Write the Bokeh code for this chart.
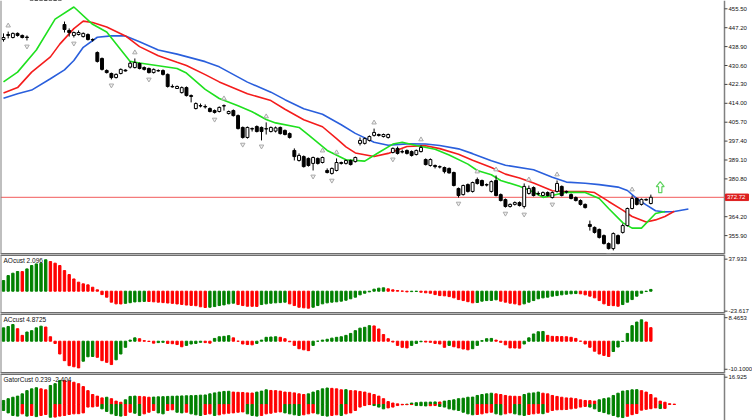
import numpy as np
from bokeh.plotting import figure
from bokeh.layouts import column
from bokeh.models import Range1d, Span, Label
from bokeh.core.properties import value
from bokeh.embed import file_html
from bokeh.resources import INLINE

# ---------------- price data (bar index 0..138) ----------------
opens = [442.0, 444.2, 442.9, 444.7, 443.8, 443.1, 460.2, 461.5, 460.3, 461.0,
         460.2, 460.8, 460.0, 448.6, 446.0, 443.8, 444.2, 443.3, 444.2, 442.0,
         436.3, 433.7, 428.4, 427.1, 425.3, 427.1, 428.6, 429.9, 429.7, 431.5,
         429.7, 429.3, 427.5, 428.4, 428.4, 426.7, 421.4, 420.5, 418.7, 420.9,
         417.4, 411.7, 413.0, 412.6, 411.7, 410.8, 410.4, 412.8, 409.5, 410.8,
         408.6, 403.4, 399.0, 402.9, 403.8, 403.4, 402.7, 401.6, 401.8, 403.4,
         402.1, 400.7, 393.3, 388.9, 390.6, 389.8, 387.6, 389.8, 388.0, 384.5,
         383.2, 384.5, 388.0, 387.6, 388.9, 388.4, 396.4, 396.4, 397.7, 399.9,
         400.3, 399.4, 399.0, 392.4, 394.2, 392.8, 393.3, 392.8, 391.5, 392.8,
         389.3, 386.7, 386.7, 386.0, 385.8, 385.4, 383.6, 376.6, 373.9, 378.3,
         375.3, 380.5, 380.1, 378.3, 375.3, 380.1, 373.9, 371.7, 368.7, 369.6,
         370.4, 368.7, 374.4, 377.0, 374.4, 373.5, 374.8, 372.6, 375.3, 377.5,
         375.3, 373.9, 372.6, 371.3, 369.6, 360.8, 359.5, 358.6, 355.9, 352.4,
         350.2, 355.9, 357.3, 360.3, 367.8, 372.2, 369.6, 371.8, 370.0]
highs = [444.7, 445.5, 445.1, 445.1, 444.2, 443.8, 462.5, 462.0, 461.8, 461.5,
         461.9, 461.4, 461.0, 449.9, 446.9, 445.5, 446.0, 445.1, 444.7, 442.5,
         436.8, 434.1, 428.9, 427.5, 427.1, 429.3, 428.9, 432.4, 433.7, 431.9,
         430.2, 429.7, 429.3, 428.9, 428.9, 427.1, 422.3, 421.8, 421.4, 421.4,
         417.9, 414.4, 413.9, 413.5, 412.2, 411.3, 412.6, 413.5, 410.8, 411.3,
         409.1, 403.8, 403.8, 403.4, 404.3, 403.8, 405.6, 403.8, 403.8, 403.8,
         402.5, 401.2, 394.2, 392.0, 391.1, 390.2, 390.6, 390.2, 390.6, 385.4,
         385.8, 389.8, 388.4, 389.3, 389.3, 390.6, 399.0, 399.0, 399.9, 402.9,
         400.7, 400.7, 400.7, 394.6, 395.0, 393.7, 393.7, 393.3, 393.7, 395.5,
         389.8, 389.8, 387.1, 386.7, 386.2, 385.8, 384.0, 377.0, 378.3, 378.8,
         379.6, 381.4, 380.5, 378.8, 380.1, 382.3, 374.4, 372.2, 370.0, 370.9,
         370.9, 378.8, 377.9, 377.5, 375.3, 375.3, 375.3, 375.3, 380.1, 377.9,
         375.7, 374.4, 373.1, 371.8, 370.0, 362.5, 359.9, 359.0, 356.4, 352.9,
         357.3, 356.4, 361.2, 368.2, 373.5, 372.6, 372.2, 372.2, 373.9]
lows = [441.1, 442.5, 442.5, 443.3, 442.5, 441.6, 459.6, 459.3, 459.1, 459.2,
        459.3, 459.2, 459.7, 445.1, 443.3, 442.9, 443.8, 442.9, 441.6, 441.1,
        431.9, 428.4, 427.1, 424.5, 424.9, 426.7, 428.0, 429.3, 429.3, 428.9,
        428.4, 427.1, 427.1, 427.9, 426.2, 420.9, 420.9, 420.3, 418.3, 417.0,
        414.4, 411.3, 412.2, 411.7, 410.0, 409.5, 410.0, 410.8, 409.1, 408.2,
        402.5, 398.5, 398.5, 401.6, 401.2, 397.7, 400.3, 401.2, 401.2, 400.3,
        399.9, 398.5, 388.9, 388.4, 385.8, 386.2, 384.5, 387.1, 387.6, 383.2,
        382.7, 384.1, 387.1, 387.1, 386.7, 388.0, 395.5, 395.9, 397.2, 399.4,
        399.4, 399.0, 398.5, 392.0, 391.5, 392.0, 391.5, 390.6, 391.1, 392.4,
        386.7, 386.2, 385.4, 385.4, 383.2, 383.2, 377.5, 372.6, 373.5, 374.8,
        374.8, 378.3, 377.5, 377.5, 374.8, 373.1, 370.9, 368.2, 368.2, 369.1,
        368.7, 367.8, 373.9, 373.1, 373.5, 373.1, 373.1, 372.2, 374.8, 373.1,
        374.4, 371.8, 370.9, 369.1, 367.8, 358.1, 356.8, 354.6, 352.0, 349.8,
        349.4, 352.0, 356.8, 359.9, 367.4, 369.1, 369.1, 371.3, 369.6]
closes = [442.9, 443.8, 444.7, 443.8, 442.9, 442.9, 461.4, 460.3, 461.0, 460.2,
          460.8, 460.0, 460.5, 446.4, 445.1, 445.1, 445.1, 444.7, 442.0, 441.8,
          432.4, 428.9, 427.5, 425.3, 426.7, 428.9, 428.2, 431.6, 431.9, 429.3,
          428.9, 427.5, 428.9, 428.2, 426.7, 421.4, 421.2, 421.4, 420.9, 417.4,
          417.0, 413.9, 412.8, 412.4, 410.4, 410.0, 412.2, 413.0, 410.4, 408.6,
          402.9, 399.0, 403.4, 402.7, 401.6, 401.6, 402.9, 403.4, 403.2, 400.7,
          400.3, 399.0, 390.6, 391.1, 386.2, 386.7, 390.2, 387.6, 390.2, 383.6,
          385.4, 388.0, 387.6, 388.9, 387.1, 390.2, 397.7, 398.5, 399.4, 401.2,
          399.9, 400.3, 400.3, 394.2, 392.0, 392.6, 392.0, 391.1, 393.3, 394.6,
          387.1, 389.3, 386.2, 386.2, 384.0, 383.4, 377.9, 373.5, 377.9, 375.3,
          379.2, 378.8, 377.9, 378.1, 379.6, 373.5, 371.3, 368.7, 369.6, 370.4,
          369.1, 377.5, 376.6, 373.5, 374.2, 374.8, 373.5, 374.8, 378.8, 373.5,
          375.0, 372.2, 371.3, 369.6, 368.2, 359.9, 357.3, 355.1, 352.4, 350.2,
          356.8, 352.4, 360.3, 367.8, 372.2, 369.6, 371.8, 371.5, 372.72]

fractal_up = [1, 28, 47, 56, 68, 71, 79, 89, 101, 105, 112, 118, 134]
fractal_down = [5, 15, 23, 31, 45, 51, 55, 66, 70, 83, 97, 107, 111, 117, 129]

# Alligator lines (bar index, price) - already shifted forward
jaw_bars = [0, 3, 6, 10, 13, 15, 17, 20, 23, 26, 29, 33, 37, 43, 46, 52, 57, 60, 64, 68,
            72, 75, 79, 82, 86, 90, 93, 97, 100, 104, 107, 113, 117, 120, 124, 127, 131,
            133, 135, 137, 139, 141, 143, 146]
jaw_vals = [416.2, 418.2, 419.8, 424.8, 428.7, 432.8, 438.6, 443.0, 443.6, 443.6, 441.0,
            437.4, 435.6, 432.3, 430.0, 423.3, 418.9, 415.6, 411.6, 409.2, 404.6, 400.8,
            396.9, 395.6, 396.2, 396.1, 395.5, 394.0, 391.9, 388.8, 386.8, 384.8, 381.5,
            379.4, 378.9, 378.3, 377.2, 375.7, 372.1, 369.4, 366.8, 366.3, 366.5, 367.6]
teeth_bars = [0, 3, 6, 10, 12, 15, 17, 19, 22, 26, 29, 33, 37, 39, 43, 46, 52, 57, 60, 64,
              68, 71, 73, 75, 79, 82, 86, 90, 93, 97, 100, 104, 107, 110, 113, 117, 120,
              124, 126, 129, 132, 134, 137, 139, 141, 143]
teeth_vals = [418.5, 420.9, 427.7, 434.4, 440.0, 446.8, 450.1, 449.5, 447.5, 443.6, 438.9,
              434.9, 432.0, 430.6, 426.6, 423.4, 418.2, 415.2, 411.4, 406.8, 403.7, 398.5,
              394.9, 392.2, 390.6, 392.0, 395.0, 395.4, 394.1, 391.6, 389.0, 385.8, 382.9,
              381.2, 379.0, 375.6, 375.3, 375.3, 374.8, 370.9, 367.1, 364.3, 361.9, 362.8,
              364.3, 366.6]
lips_bars = [0, 3, 7, 11, 15, 19, 22, 27, 29, 33, 37, 39, 43, 46, 50, 53, 56, 58, 63, 65,
             69, 73, 77, 80, 83, 85, 88, 92, 95, 99, 101, 104, 106, 110, 113, 115, 117, 120,
             124, 127, 129, 132, 134, 136, 139, 141]
lips_vals = [423.4, 427.7, 437.4, 451.0, 456.3, 448.7, 445.3, 432.4, 431.7, 430.5, 429.3,
             427.3, 420.1, 416.1, 412.9, 410.3, 406.9, 405.4, 403.4, 400.1, 393.3, 389.2,
             388.6, 392.4, 396.1, 396.9, 395.5, 393.8, 391.3, 387.3, 384.5, 382.6, 380.1,
             377.6, 375.0, 372.7, 373.5, 375.0, 374.8, 372.2, 367.8, 361.6, 359.2, 359.2,
             365.6, 366.5]

current_price = 372.72
current_price_label = "372.72"
signal_bar = 140
signal_price = 374.8

price_ticks = [455.5, 447.2, 438.9, 430.6, 422.3, 414.0, 405.7, 397.4, 389.1, 380.8, 364.2, 355.9]
price_tick_labels = ["455.50", "447.20", "438.90", "430.60", "422.30", "414.00", "405.70",
                     "397.40", "389.10", "380.80", "364.20", "355.90"]

# ---------------- indicator data ----------------
ao = [12.6, 18.5, 21.3, 23.3, 23.2, 26.4, 30.4, 32.3, 33.2, 37.2,
      35.1, 33.2, 30.4, 24.4, 19.7, 14.5, 10.7, 8.7, 7.5, 4.7,
      1.6, -4.0, -7.1, -13.0, -15.0, -15.1, -14.4, -13.6, -12.7, -12.4,
      -12.1, -12.2, -12.6, -13.0, -13.5, -14.0, -14.4, -15.1, -15.7, -16.4,
      -16.8, -17.2, -18.5, -19.3, -19.0, -18.2, -17.0, -16.2, -15.0, -14.2,
      -15.8, -17.0, -17.8, -17.9, -18.0, -15.8, -15.0, -14.2, -13.8, -13.5,
      -13.0, -15.0, -17.0, -19.0, -19.7, -20.1, -19.0, -17.0, -15.0, -13.8,
      -13.0, -12.6, -11.8, -10.7, -9.0, -7.1, -4.3, -2.4, -0.8, 2.4,
      3.6, 4.0, 2.8, 1.6, 0.8, 0.2, -0.8, -0.5, -0.3, -1.2,
      -1.9, -2.4, -4.0, -5.2, -5.5, -6.4, -7.9, -9.9, -11.1, -12.4,
      -13.8, -13.4, -11.8, -11.1, -10.9, -10.2, -11.8, -13.0, -14.2, -15.0,
      -16.2, -15.0, -13.0, -11.1, -9.0, -7.9, -7.1, -5.9, -5.2, -4.3,
      -3.6, -3.1, -2.8, -3.1, -4.3, -5.9, -7.9, -11.1, -15.0, -16.9,
      -17.1, -17.8, -15.8, -13.0, -9.9, -5.9, -2.4, -0.4, 2.096]
ac = [4.8, 5.3, 6.0, 4.5, 2.1, 3.3, 3.8, 4.8, 5.4, 5.1,
      1.6, -0.8, -4.6, -7.0, -8.8, -9.2, -9.6, -7.2, -5.6, -5.5,
      -5.8, -7.0, -7.6, -8.4, -6.7, -4.6, -2.2, 0.4, 1.2, 0.9,
      0.2, -0.1, -0.7, -0.5, -0.4, -0.8, -0.9, -1.2, -2.0, -1.5,
      -1.0, -0.8, -0.4, -0.5, -0.7, 1.0, 1.6, 1.75, 2.0, 1.2,
      0.0, -1.0, -1.2, -1.3, -0.8, 0.4, 1.4, 1.5, 1.6, 1.4,
      0.9, -0.2, -1.5, -2.7, -3.1, -3.4, -1.5, 0.0, 0.4, 0.7,
      1.1, 1.4, 1.6, 2.1, 2.8, 3.8, 4.7, 5.0, 5.6, 5.5,
      4.4, 2.4, 0.9, -0.3, -1.5, -2.2, -2.4, -1.5, -0.8, -0.2,
      -0.3, -0.4, -0.8, -1.0, -2.2, -1.5, -2.0, -2.4, -2.8, -3.1,
      -2.7, -1.5, 0.2, 0.9, 1.0, 0.4, -0.4, -1.3, -2.4, -2.45,
      -2.5, -1.0, 1.2, 2.6, 3.4, 3.5, 2.1, 1.75, 1.7, 1.65,
      1.6, 1.4, 1.0, 0.0, -1.0, -2.2, -3.6, -4.6, -5.1, -5.5,
      -3.7, -2.1, -0.1, 2.8, 5.6, 6.9, 7.7, 6.9, 4.8725]
gator_up = [2.5, 3.6, 4.5, 5.2, 6.6, 8.6, 9.7, 10.4, 9.7, 9.1,
            11.8, 12.9, 14.9, 14.8, 14.5, 13.8, 12.9, 11.1, 8.6, 6.2,
            5.2, 4.1, 4.5, 3.6, 2.1, 1.4, 2.9, 5.0, 5.2, 5.0,
            4.8, 4.5, 4.6, 4.75, 4.85, 5.0, 5.1, 5.2, 5.3, 5.4,
            5.5, 5.6, 5.8, 5.9, 6.6, 7.2, 7.7, 8.1, 8.2, 7.7,
            7.55, 7.45, 7.2, 7.1, 7.7, 8.3, 9.1, 8.7, 8.6, 8.3,
            7.7, 7.55, 7.2, 6.6, 6.2, 6.6, 7.7, 8.6, 9.7, 10.2,
            10.0, 9.7, 9.1, 9.2, 8.6, 8.5, 8.1, 7.7, 7.0, 6.2,
            5.2, 3.6, 1.8, 0.9, 0.4, 0.1, 0.2, 0.9, 1.1, 1.4,
            1.45, 1.5, 1.6, 1.55, 2.1, 2.5, 2.9, 3.6, 3.9, 4.5,
            4.6, 5.6, 6.2, 6.6, 7.0, 6.6, 6.2, 5.6, 5.2, 5.1,
            5.0, 6.2, 7.0, 7.2, 7.7, 7.0, 6.6, 5.6, 5.0, 4.5,
            4.1, 4.0, 3.6, 2.9, 2.5, 2.4, 2.1, 2.9, 3.6, 4.1,
            5.6, 7.0, 8.3, 8.6, 9.1, 9.2, 8.6, 7.7, 6.2, 4.1,
            2.1, 1.4, 0.5, 0.239]
gator_down = [-3.7, -5.2, -6.8, -7.2, -5.8, -7.2, -6.8, -7.5, -6.8, -6.2,
              -7.9, -7.8, -7.2, -6.8, -6.2, -5.8, -5.7, -5.2, -1.6, -1.5,
              -1.1, -2.7, -4.3, -5.8, -6.8, -7.2, -6.8, -4.8, -5.4, -6.8,
              -5.8, -4.8, -3.7, -5.2, -5.8, -3.7, -3.3, -4.8, -5.2, -4.8,
              -5.8, -6.4, -6.8, -6.2, -5.8, -6.8, -6.4, -5.8, -5.4, -5.2,
              -4.8, -4.6, -5.8, -6.8, -7.2, -6.8, -5.8, -5.4, -4.8, -4.6,
              -5.2, -5.8, -6.4, -6.8, -6.4, -5.8, -5.2, -5.8, -6.8, -7.2,
              -6.8, -6.4, -6.8, -5.8, -5.2, -3.7, -1.6, -0.65, -0.05, -0.65,
              -1.6, -2.7, -2.1, -1.6, -0.65, -0.2, -0.1, -0.05, -0.65, -0.7,
              -0.9, -0.75, -0.65, -1.2, -1.6, -2.7, -3.3, -3.7, -4.8, -5.8,
              -6.4, -6.2, -5.8, -5.2, -4.8, -5.8, -6.4, -5.8, -5.2, -5.8,
              -6.4, -6.8, -6.2, -5.8, -5.4, -5.7, -4.8, -3.7, -3.3, -3.2,
              -3.1, -2.7, -2.3, -1.6, -1.2, -1.6, -2.7, -4.3, -5.0, -5.9,
              -6.8, -7.7, -8.1, -7.3, -6.3, -5.6, -3.5, -3.0, -2.6, -2.1,
              -2.5, -2.404]

ao_ticks, ao_tick_labels = [37.933, -23.617], ["37.933", "-23.617"]
ac_ticks, ac_tick_labels = [8.4653, -10.1], ["8.4653", "-10.1000"]
gator_ticks, gator_tick_labels = [16.925], ["16.925"]

# ---------------- styling ----------------
GREEN = "#008000"
RED = "#ff0000"
SEP = "#6e6e6e"
AXIS = "#808080"
FONT = "Liberation Sans"
W = 752
AXIS_PX = 28
FRAME_W = W - AXIS_PX
X0, X1 = -0.64, 153.7           # bar range of the plotting area (left of the price scale)
PX = (X1 - X0) / FRAME_W          # one pixel in bar units
XR = Range1d(X0, X1 + AXIS_PX * PX)  # frame spans the scale strip too


def updown_colors(vals, use_abs=False):
    cols = []
    prev_col = GREEN
    for i, v in enumerate(vals):
        if i == 0:
            cols.append(GREEN)
            continue
        a, b = (abs(v), abs(vals[i - 1])) if use_abs else (v, vals[i - 1])
        col = GREEN if a > b else (RED if a < b else prev_col)
        cols.append(col)
        prev_col = col
    return cols


def panel(h, y0, y1, ticks, labels, top_sep=True, bottom_sep=True):
    p = figure(width=W, height=h, x_range=XR, y_range=Range1d(y0, y1),
               output_backend="svg", toolbar_location=None,
               x_axis_location=None, y_axis_location=None,
               min_border_left=0, min_border_right=0,
               min_border_top=0, min_border_bottom=0)
    p.grid.visible = False
    p.outline_line_color = None
    p.background_fill_color = "white"
    p.border_fill_color = "white"
    p.add_layout(Span(location=X0, dimension="height", line_color=AXIS, line_width=2))
    if top_sep:
        p.segment([X0], [y1], [X1], [y1], line_color=SEP, line_width=3)
    if bottom_sep:
        p.segment([X0], [y0], [X1], [y0], line_color=SEP, line_width=3)
    # right-hand value scale
    p.segment([X1], [y0], [X1], [y1], line_color=AXIS, line_width=1.5)
    p.segment([X1] * len(ticks), ticks, [X1 + 3 * PX] * len(ticks), ticks,
              line_color="#444444", line_width=1)
    p.text(x=[X1 + 4 * PX] * len(ticks), y=ticks, text=labels,
           text_font=value(FONT), text_font_size="6px", text_color="#111111",
           text_baseline="middle", text_align="left")
    return p


def corner_label(p, text, y1):
    p.add_layout(Label(x=X0, y=y1, x_offset=3, y_offset=-2, text=text,
                       text_baseline="top", text_align="left",
                       text_font=FONT, text_font_size="6.5px", text_color="#111111"))


# ---------------- main price panel ----------------
Y0M, Y1M = 347.6, 459.15
MAIN_H = 254
pm = panel(MAIN_H, Y0M, Y1M, price_ticks, price_tick_labels, top_sep=False)

idx = np.arange(len(closes))
o = np.array(opens); c = np.array(closes); hi = np.array(highs); lo = np.array(lows)
bull = c >= o

pm.segment([X0], [current_price], [X1], [current_price], line_color="#f25a5a", line_width=1)
pm.line(jaw_bars, jaw_vals, line_color="#2a5fdc", line_width=1.6)
pm.line(teeth_bars, teeth_vals, line_color="#f41c1c", line_width=1.6)
pm.line(lips_bars, lips_vals, line_color="#1fe01f", line_width=1.6)

pm.segment(idx, hi, idx, lo, line_color="black", line_width=1)
pm.vbar(x=idx[bull], top=c[bull], bottom=o[bull], width=0.62,
        fill_color="white", line_color="black", line_width=1)
pm.vbar(x=idx[~bull], top=o[~bull], bottom=c[~bull], width=0.62,
        fill_color="black", line_color="black", line_width=1)

fr_off = 2.6
pm.scatter(fractal_up, [highs[i] + fr_off for i in fractal_up],
           marker="triangle", size=4.5, fill_color="#f2f2f2", line_color="#aaaaaa", line_width=1)
pm.scatter(fractal_down, [lows[i] - fr_off for i in fractal_down],
           marker="inverted_triangle", size=4.5, fill_color="#f2f2f2", line_color="#aaaaaa", line_width=1)

# buy-signal arrow (hollow)
sx, sy = signal_bar, signal_price
hs, hh, ht, hd = 0.35, 0.85, 4.8, 2.2
pm.patch([sx - hs, sx - hs, sx - hh, sx, sx + hh, sx + hs, sx + hs],
         [sy, sy + ht - hd, sy + ht - hd, sy + ht, sy + ht - hd, sy + ht - hd, sy],
         fill_color="white", line_color="#5fd35f", line_width=1.2)

# current price tag on the scale
box_h = 6.5 * (Y1M - Y0M) / MAIN_H
pm.quad(left=[X1 + 1 * PX], right=[X1 + 24 * PX],
        bottom=[current_price - box_h / 2], top=[current_price + box_h / 2],
        fill_color="#dd1f1f", line_color="#dd1f1f")
pm.text(x=[X1 + 2.5 * PX], y=[current_price], text=[current_price_label],
        text_font=value(FONT), text_font_size="6px", text_color="white",
        text_baseline="middle", text_align="left")

# ---------------- AO ----------------
pao = panel(59, -26.4, 43.45, ao_ticks, ao_tick_labels)
pao.vbar(x=np.arange(len(ao)), top=ao, bottom=0, width=0.5, color=updown_colors(ao))
corner_label(pao, "AOcust 2.096", 43.45)

# ---------------- AC ----------------
pac = panel(60, -11.62, 9.97, ac_ticks, ac_tick_labels)
pac.vbar(x=np.arange(len(ac)), top=ac, bottom=0, width=0.5, color=updown_colors(ac))
corner_label(pac, "ACcust 4.8725", 9.97)

# ---------------- Gator ----------------
pg = panel(47, -9.92, 19.22, gator_ticks, gator_tick_labels, bottom_sep=False)
pg.vbar(x=np.arange(len(gator_up)), top=gator_up, bottom=0, width=0.5,
        color=updown_colors(gator_up))
pg.vbar(x=np.arange(len(gator_down)), top=0, bottom=gator_down, width=0.5,
        color=updown_colors(gator_down, use_abs=True))
corner_label(pg, "GatorCust 0.239 -2.404", 19.22)

layout = column(pm, pao, pac, pg, spacing=0)
open("out.html", "w").write(file_html(layout, INLINE, title="Alligator AO AC Gator"))
